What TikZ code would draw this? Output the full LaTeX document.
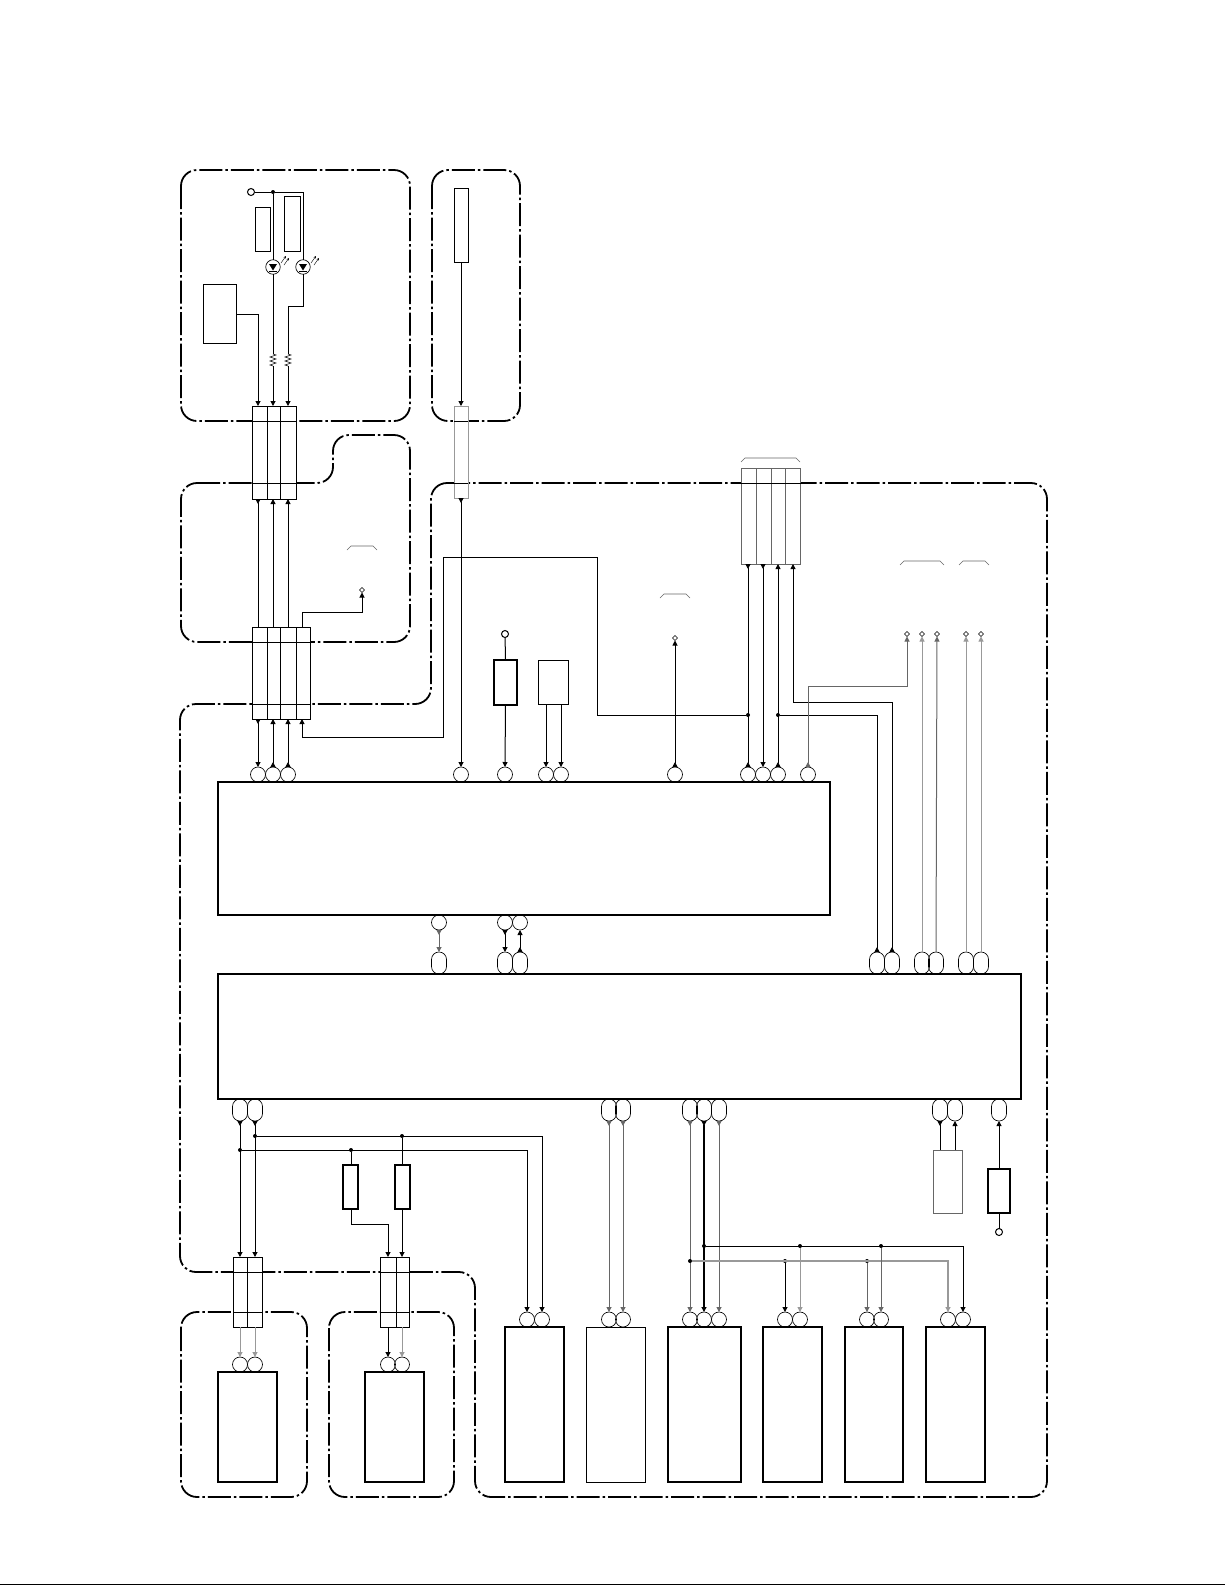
\documentclass[tikz,border=0pt]{standalone}
\usepackage{tikz}
\usetikzlibrary{arrows.meta,calc,shapes.geometric,decorations.pathmorphing}
\definecolor{wiregrey}{gray}{0.6}
\definecolor{edgegrey}{gray}{0.4}
\tikzset{
  >={Triangle[length=5pt,width=5pt]},
  every node/.style={inner sep=0pt,outer sep=0pt},
  zone/.style={line width=1.8pt,rounded corners=16pt,dash pattern=on 23pt off 3pt on 2.5pt off 3pt},
  wire/.style={line width=1pt},
  greywire/.style={line width=1pt,draw=wiregrey},
  thickbox/.style={draw,line width=2pt},
  thinbox/.style={draw,line width=0.8pt},
  cellbox/.style={draw,fill=white,line width=0.8pt},
  greycell/.style={draw=wiregrey,fill=white,line width=1pt},
  pad/.style={circle,draw,line width=0.65pt,minimum size=15pt},
  oval/.style={rectangle,draw,line width=0.65pt,minimum width=15pt,minimum height=22pt,rounded corners=7.4pt},
  jdot/.style={circle,fill,minimum size=4pt},
  term/.style={circle,draw,line width=1pt,minimum size=7pt},
  tinyterm/.style={diamond,draw,line width=0.5pt,minimum size=5pt},
  led/.style={circle,draw,line width=0.65pt,minimum size=14.5pt},
}
\begin{document}
\begin{tikzpicture}[x=1pt,y=-1pt]
    \useasboundingbox (0,0) rectangle (1225,1585);

    % Page rule
    \draw[line width=1.3pt] (0,1584.3) -- (1225,1584.3);

    % Zones
    \draw[zone] (181,170) rectangle (410,421);
    \draw[zone] (432,170) rectangle (520,421);
    \draw[zone] (181,483) -- (333,483) -- (333,435) -- (410,435) -- (410,642) -- (181,642) -- cycle;
    \draw[zone] (431,483) -- (1047,483) -- (1047,1497) -- (475,1497) -- (475,1272) -- (180,1272) -- (180,704) -- (431,704) -- cycle;
    \draw[zone] (181,1312) rectangle (307,1497);
    \draw[zone] (329,1312) rectangle (454,1497);

    % Connector strips
    \foreach \n/\x/\w in {a/259.5/15,b/273.75/13.5,c/288.25/15.5} {
        \node[cellbox,minimum width=\w pt,minimum height=93pt] (top\n) at (\x,452.5) {};
    }
    \foreach \n/\x/\w in {a/259.5/15,b/273.75/13.5,c/288.25/15.5,d/303/14} {
        \node[cellbox,minimum width=\w pt,minimum height=92pt] (mid\n) at (\x,673) {};
    }
    \node[greycell,minimum width=14pt,minimum height=92pt] (cam) at (461,452) {};
    \foreach \n/\x in {a/748.5,b/763.5,c/778.5,d/793} {
        \node[cellbox,draw=edgegrey,minimum width=15pt,minimum height=96pt] (rear\n) at (\x,516) {};
    }
    \foreach \n/\x/\w in {a/240/14,b/254.5/15} {
        \node[cellbox,minimum width=\w pt,minimum height=70pt] (lfa\n) at (\x,1292) {};
    }
    \foreach \n/\x/\w in {a/388/16,b/402.5/13} {
        \node[cellbox,minimum width=\w pt,minimum height=70pt] (lfb\n) at (\x,1292) {};
    }
    % Zone edges where they cross the strips
    \draw[wire] (topa.west |- 0,421) -- (topc.east |- 0,421);
    \draw[wire] (topa.west |- 0,483) -- (topc.east |- 0,483);
    \draw[wire] (mida.west |- 0,642) -- (midd.east |- 0,642);
    \draw[wire] (mida.west |- 0,704) -- (midd.east |- 0,704);
    \draw[wire] (cam.west |- 0,421) -- (cam.east |- 0,421);
    \draw[wire] (cam.west |- 0,483) -- (cam.east |- 0,483);
    \draw[wire] (reara.west |- 0,483) -- (reard.east |- 0,483);
    \draw[wire] (lfaa.west |- 0,1272) -- (lfab.east |- 0,1272);
    \draw[wire] (lfaa.west |- 0,1312) -- (lfab.east |- 0,1312);
    \draw[wire] (lfba.west |- 0,1272) -- (lfbb.east |- 0,1272);
    \draw[wire] (lfba.west |- 0,1312) -- (lfbb.east |- 0,1312);

    % Main blocks
    \node[thickbox,minimum width=612pt,minimum height=133pt] (ica) at (524,848.5) {};
    \node[thickbox,minimum width=803pt,minimum height=125pt] (icb) at (619.5,1036.5) {};

    % Pads on the upper block
    \foreach \n/\x in {a/258,b/273,c/288,d/461,e/505,f/546,g/561,h/675,i/748,j/763,k/778,l/808} {
        \node[pad] (up\n) at (\x,774.5) {};
    }
    \foreach \n/\x in {a/439,b/505,c/520} {
        \node[pad] (dn\n) at (\x,922.5) {};
    }
    % Ovals on the lower block
    \foreach \n/\x in {a/439,b/505,c/520,d/877,e/892,f/922,g/936,h/966,i/981} {
        \node[oval] (in\n) at (\x,963) {};
    }
    \foreach \n/\x in {a/240,b/255,c/609,d/623,e/690,f/704,g/719,h/940,i/955,j/999} {
        \node[oval] (ot\n) at (\x,1110) {};
    }

    % Top left zone
    \node[term] (vcc) at (251,192) {};
    \node[jdot] (vj) at (273,192) {};
    \node[thinbox,minimum width=15pt,minimum height=44pt] (lbla) at (262.5,229) {};
    \node[thinbox,minimum width=16pt,minimum height=55pt] (lblb) at (292,223.5) {};
    \node[thinbox,minimum width=33pt,minimum height=59pt] (sens) at (219.5,313.5) {};
    \node[led] (leda) at (273,267) {};
    \node[led] (ledb) at (303,267) {};
    \foreach \l in {leda,ledb} {
        \fill ($(\l)+(-4,-3)$) -- ($(\l)+(4,-3)$) -- ($(\l)+(0,3.5)$) -- cycle;
        \draw[line width=0.7pt] ($(\l)+(-4,4)$) -- ($(\l)+(4,4)$);
        \draw[line width=0.4pt,-{Stealth[length=2.5pt,width=2.5pt]}] ($(\l)+(8,-4)$) -- ($(\l)+(13,-11)$);
        \draw[line width=0.4pt,-{Stealth[length=2.5pt,width=2.5pt]}] ($(\l)+(11,-2)$) -- ($(\l)+(16,-9)$);
    }
    \coordinate (rat) at (273,354);
    \coordinate (rab) at (273,366);
    \coordinate (rbt) at (288,354);
    \coordinate (rbb) at (288,366);
    \draw[wire] (vcc) -- (vj);
    \draw[wire] (vj) -- (leda);
    \draw[wire] (vj) -| (ledb);
    \draw[wire] (leda) -- (rat);
    \draw[wire] (ledb) |- (288,306) -- (rbt);
    \draw[line width=0.6pt,decorate,decoration={zigzag,segment length=4pt,amplitude=3pt}] (rat) -- (rab);
    \draw[line width=0.6pt,decorate,decoration={zigzag,segment length=4pt,amplitude=3pt}] (rbt) -- (rbb);
    \draw[wire,->] (rab) -- (rab |- topb.north);
    \draw[wire,->] (rbb) -- (rbb |- topc.north);
    \draw[wire,->] (sens.east |- 0,314) -| (258,406);

    % Top middle zone
    \node[thinbox,minimum width=14pt,minimum height=74pt] (lens) at (461,225) {};
    \draw[wire,->] (lens) -- (cam.north);

    % Between the two top strips
    \draw[wire,>-] (258,499) -- (258,627);
    \draw[wire,<-] (273,499) -- (273,627);
    \draw[wire,<-] (288,499) -- (288,627);
    \node[tinyterm] (tpa) at (362,590) {};
    \draw[wire,->] (302,627) |- (362,612) -- (tpa.south);

    % Strips down to the upper block
    \draw[wire,>->] (upa.north |- mida.south) -- (upa.north);
    \draw[wire,<-<] (upb.north |- midb.south) -- (upb.north);
    \draw[wire,<-<] (upc.north |- midc.south) -- (upc.north);
    \draw[wire,>->] (cam.south) -- (upd.north);
    \coordinate (crossa) at (302,737);
    \node[jdot] (ja) at (748,715) {};
    \node[jdot] (jb) at (778,715) {};
    \draw[wire,<-] (302,719) -- (crossa) -- (443,737) -- (443,557) -- (597,557) -- (597,715) -- (ja);

    % Parts above the upper block
    \node[term] (vtop) at (505,634) {};
    \node[thickbox,minimum width=23pt,minimum height=45pt] (fusea) at (505.5,682.5) {};
    \node[thinbox,minimum width=30pt,minimum height=44pt] (xtal) at (553,682.5) {};
    \draw[wire] (vtop) -- (fusea.north);
    \draw[wire,->] (fusea.south) -- (upe.north);
    \draw[wire,->] (xtal.south -| upf.north) -- (upf.north);
    \draw[wire,<-] (upg.north) -- (xtal.south -| upg.north);

    % Rear strip
    \node[tinyterm] (tpb) at (675,638) {};
    \draw[wire,<-<] (tpb.south) -- (uph.north);
    \draw[wire,>-<] (upi.north |- reara.south) -- (upi.north);
    \draw[wire,>->] (upj.north |- rearb.south) -- (upj.north);
    \draw[wire,<-<] (upk.north |- rearc.south) -- (upk.north);
    \draw[wire,<-<] (793,564) |- (892,702) -- (ine.north);
    \draw[wire,-<] (jb) -| (ind.north);

    % Far right test points
    \foreach \n/\x in {c/907,d/922,e/937,f/966,g/981} {
        \node[tinyterm] (tp\n) at (\x,634) {};
    }
    \draw[wire,draw=edgegrey,<-<] (tpc.south) -- (907,686) -| (upl.north);
    \draw[greywire,<-] (tpd.south) -- (inf.north);
    \draw[wire,draw=edgegrey,<-] (tpe.south) -- (ing.north);
    \draw[greywire,<-] (tpf.south) -- (inh.north);
    \draw[greywire,<-] (tpg.south) -- (ini.north);
    \foreach \a/\b/\y in {347/377/550,660/690/598,741/800/462,900/944/565,959/989/565} {
        \draw[line width=0.6pt,draw=edgegrey] (\a,\y) -- (\a+4,\y-4) -- (\b-4,\y-4) -- (\b,\y);
    }

    % Between the two blocks
    \draw[wire,draw=edgegrey,>->] (dna.south) -- (ina.north);
    \draw[wire,>->] (dnb.south) -- (inb.north);
    \draw[wire,<-<] (dnc.south) -- (inc.north);

    % Lower blocks
    \foreach \n/\x/\w in {a/534.5/59,c/704.5/73,d/792.5/59,f/955.5/59} {
        \node[thickbox,minimum width=\w pt,minimum height=155pt] (blk\n) at (\x,1404.5) {};
    }
    \node[thinbox,minimum width=59pt,minimum height=155pt] (blkb) at (615.5,1404.5) {};
    \node[draw,line width=1.2pt,minimum width=58pt,minimum height=155pt] (blke) at (874,1404.5) {};
    \node[thickbox,minimum width=59pt,minimum height=110pt] (blkg) at (247.5,1427) {};
    \node[thickbox,minimum width=59pt,minimum height=110pt] (blkh) at (394.5,1427) {};
    \foreach \n/\x/\y in {a/527/1319.5,b/542/1319.5,c/609/1319.5,d/623/1319.5,e/690/1319.5,f/704/1319.5,g/719/1319.5,h/785/1319.5,i/800/1319.5,j/867/1319.5,k/881/1319.5,l/948/1319.5,m/963/1319.5,n/240/1364.5,o/255/1364.5,q/388/1364.5,r/402/1364.5} {
        \node[pad] (lo\n) at (\x,\y) {};
    }

    % Wires below the lower block
    \node[jdot] (jc) at (255,1136) {};
    \node[jdot] (jd) at (240,1150) {};
    \node[jdot] (je) at (351,1150) {};
    \node[jdot] (jf) at (402,1136) {};
    \node[thickbox,minimum width=15pt,minimum height=44pt] (fuseb) at (350.5,1187) {};
    \node[thickbox,minimum width=15pt,minimum height=44pt] (fusec) at (402.5,1187) {};
    \draw[wire,>->] (ota.south) -- (lfaa.north -| ota.south);
    \draw[wire,>->] (otb.south) -- (lfab.north -| otb.south);
    \draw[wire,->] (jc) -- (542,1136) -- (lob.north);
    \draw[wire,->] (jd) -- (527,1150) -- (loa.north);
    \draw[wire] (je) -- (fuseb.north -| je);
    \draw[wire] (jf) -- (fusec.north -| jf);
    \draw[wire,->] (fuseb.south -| je) |- (388,1224) -- (388,1257);
    \draw[wire,->] (fusec.south -| jf) -- (402,1257);
    \draw[greywire,->] (240,1327) -- (lon.north);
    \draw[greywire,->] (255,1327) -- (loo.north);
    \draw[wire,->] (388,1327) -- (loq.north);
    \draw[greywire,->] (402,1327) -- (lor.north);

    \draw[wire,draw=edgegrey,>->] (otc.south) -- (loc.north);
    \draw[wire,draw=edgegrey,>->] (otd.south) -- (lod.north);
    \draw[wire,draw=edgegrey,>->] (ote.south) -- (loe.north);
    \draw[wire,line width=1.1pt,>->] (otf.south) -- (lof.north);
    \draw[wire,draw=edgegrey,>->] (otg.south) -- (log.north);

    % Rails along the lower blocks
    \foreach \n/\x/\y in {g/690/1261,h/704/1246,i/785/1261,k/800/1246,l/867/1261,m/881/1246} {
        \node[jdot] (j\n) at (\x,\y) {};
    }
    \draw[greywire,line width=1.2pt,->] (jg) -- (948,1261) -- (lol.north);
    \draw[wire,->] (jh) -- (963,1246) -- (lom.north);
    \draw[wire,->] (ji) -- (loh.north);
    \draw[greywire,->] (jk) -- (loi.north);
    \draw[wire,draw=edgegrey,->] (jl) -- (loj.north);
    \draw[wire,draw=edgegrey,->] (jm) -- (lok.north);

    % Bottom right parts
    \node[draw=edgegrey,line width=0.8pt,minimum width=29pt,minimum height=63pt] (xtalb) at (947.5,1181.5) {};
    \node[thickbox,minimum width=22pt,minimum height=44pt] (fused) at (999,1191) {};
    \node[term] (vbot) at (999,1232) {};
    \draw[wire,>-] (oth.south) -- (oth.south |- xtalb.north);
    \draw[wire,->] (oti.south |- xtalb.north) -- (oti.south);
    \draw[wire,->] (fused.north) -- (otj.south);
    \draw[wire] (fused.south) -- (vbot);

\end{tikzpicture}
\end{document}
